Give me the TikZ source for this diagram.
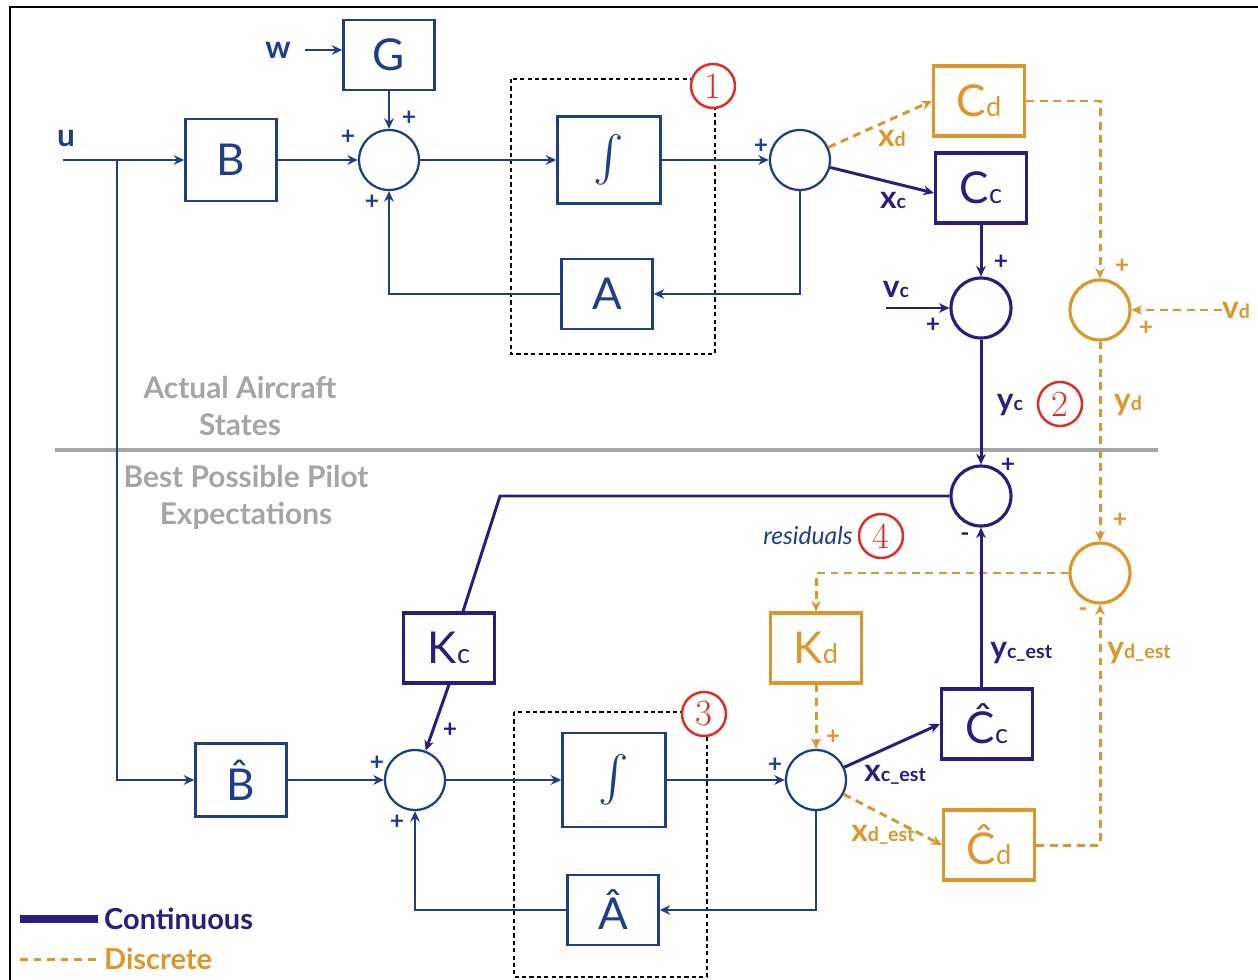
\documentclass[tikz,border=0pt]{standalone}
\usepackage{fontspec}
\setsansfont{Lato}
\usepackage{graphicx}
\usetikzlibrary{arrows.meta, positioning, calc}

\definecolor{sysblue}{RGB}{30,62,138}
\definecolor{contpurple}{RGB}{44,28,128}
\definecolor{discorange}{RGB}{220,150,44}
\definecolor{tagred}{RGB}{224,44,36}
\definecolor{sepgray}{RGB}{165,165,165}

\newcommand{\sub}[1]{\scalebox{0.62}{#1}}
\newcommand{\integsign}{{\fontsize{10}{12}\selectfont\scalebox{2.6}{$\int$}}}

\begin{document}
\begin{tikzpicture}[
        x=0.02cm, y=-0.02cm,
        font=\sffamily,
        >={Stealth[length=6pt, width=5.5pt]},
        sysline/.style={draw=sysblue, line width=1.1pt},
        cline/.style={draw=contpurple, line width=1.7pt},
        dline/.style={draw=discorange, line width=1.7pt, dash pattern=on 4.5pt off 3.2pt},
        blk/.style={
            draw=sysblue,
            fill=white,
            line width=1.4pt,
            minimum width=1.82cm,
            minimum height=1.4cm,
            text=sysblue,
            font=\sffamily\fontsize{25}{28}\selectfont
        },
        cblk/.style={blk, draw=contpurple, text=contpurple, line width=1.8pt},
        dblk/.style={blk, draw=discorange, text=discorange, line width=1.8pt},
        sum/.style={circle, draw=sysblue, fill=white, line width=1.3pt, minimum size=1.2cm, inner sep=0pt},
        csum/.style={sum, draw=contpurple, line width=1.8pt},
        dsum/.style={sum, draw=discorange, line width=1.8pt},
        sgn/.style={inner sep=0pt, text=sysblue, font=\sffamily\bfseries\fontsize{14}{14}\selectfont},
        sig/.style={inner sep=0pt, font=\sffamily\bfseries\fontsize{18}{18}\selectfont},
        numtag/.style={circle, draw=tagred, fill=white, line width=1.4pt, minimum size=0.88cm, inner sep=0pt, text=tagred, font=\rmfamily\fontsize{21}{21}\selectfont},
        grp/.style={draw=black, line width=1.1pt, dash pattern=on 2.4pt off 1.8pt},
        zone/.style={text=sepgray, align=center, font=\sffamily\bfseries\fontsize{17}{21}\selectfont}
    ]
    \useasboundingbox (0,0) rectangle (1258,980);

    % frame and dashed groups
    \draw[line width=1.2pt] (10,980) -- (10,7) -- (1258,7);
    \draw[grp] (511,79) rectangle (715,354);
    \draw[grp] (514,712) rectangle (707,977);

    % separator
    \draw[sepgray, line width=2.5pt] (55,450) -- (1158,450);
    \node[zone] (zoneTop) at (240,406) {Actual Aircraft\\States};
    \node[zone] (zoneBot) at (246,497) {Best Possible Pilot\\Expectations};

    % actual aircraft
    \node[blk] (gainG) at (389,55) {G};
    \node[blk, minimum height=1.64cm] (gainB) at (231,160) {B};
    \node[sum] (sumIn) at (389,160) {};
    \node[blk, minimum width=2.06cm, minimum height=1.74cm] (integ) at (609,160) {\integsign};
    \node[blk] (stateA) at (607,294) {A};
    \node[sum] (sumX) at (800,160) {};
    \node[dblk] (outCd) at (979,101) {C\sub{d}};
    \node[cblk] (outCc) at (981,188) {C\sub{c}};
    \node[csum] (sumYc) at (981,308) {};
    \node[dsum] (sumYd) at (1100,310) {};

    \coordinate (uIn) at (63,160);
    \coordinate (uSplit) at (117,160);
    \node[sig, text=sysblue] (lblU) at (66,139) {u};
    \node[sig, text=sysblue] (lblW) at (278,50) {w};

    \draw[sysline, ->] (uIn) -- (gainB);
    \draw[sysline, ->, shorten <=8pt] (lblW) -- (lblW -| gainG.west);
    \draw[sysline, ->] (gainG) -- (sumIn);
    \draw[sysline, ->] (gainB) -- (sumIn);
    \draw[sysline, ->] (sumIn) -- (integ);
    \draw[sysline, ->] (integ) -- (sumX);
    \draw[sysline, ->] (sumX.south) |- (stateA.east);
    \draw[sysline, ->] (stateA.west) -| (sumIn.south);

    \draw[dline, ->] (sumX) -- (outCd.west);
    \draw[cline, ->] (sumX) -- ([yshift=-0.1cm]outCc.west);
    \node[sig, text=discorange] (lblXd) at (892,138) {x\sub{d}};
    \node[sig, text=contpurple] (lblXc) at (893,200) {x\sub{c}};

    \draw[cline, ->] (outCc) -- (sumYc);
    \coordinate (vcIn) at (886,308);
    \node[sig, text=contpurple] (lblVc) at (896,289) {v\sub{c}};
    \draw[cline, ->] (vcIn) -- (sumYc);
    \draw[dline, ->] (outCd.east) -| (sumYd.north);
    \node[sig, text=discorange] (lblVd) at (1236,310) {v\sub{d}};
    \draw[dline, ->] (lblVd) -- (sumYd);

    % residuals
    \node[csum] (resC) at (981,496) {};
    \node[dsum] (resD) at (1100,573) {};
    \node[cblk] (gainKc) at (449,648) {K\sub{c}};
    \node[dblk] (gainKd) at (816,648) {K\sub{d}};

    \draw[cline, ->] (sumYc) -- (resC);
    \draw[dline, ->] (sumYd) -- (resD);
    \node[sig, text=contpurple] (lblYc) at (1010,405) {y\sub{c}};
    \node[sig, text=discorange] (lblYd) at (1128,405) {y\sub{d}};

    \coordinate (kcBend) at (500,496);
    \draw[cline] (resC) -- (kcBend) -- ([xshift=0.28cm]gainKc.north);
    \draw[dline, ->] (resD) -| (gainKd.north);
    \node[text=sysblue, inner sep=0pt, font=\sffamily\itshape\fontsize{14}{14}\selectfont] (lblRes) at (808,536) {residuals};

    % pilot model
    \node[blk, minimum height=1.46cm] (estB) at (241,780) {B̂};
    \node[sum] (sumInE) at (415,780) {};
    \node[blk, minimum width=2.06cm, minimum height=1.88cm] (integE) at (614,780) {\integsign};
    \node[blk] (estA) at (613,910) {Â};
    \node[sum] (sumXE) at (816,780) {};
    \node[cblk] (estCc) at (987,724) {Ĉ\sub{c}};
    \node[dblk] (estCd) at (989,845) {Ĉ\sub{d}};

    \draw[sysline, ->] (uSplit) |- (estB.west);
    \draw[sysline, ->] (estB) -- (sumInE);
    \draw[sysline, ->] (sumInE) -- (integE);
    \draw[sysline, ->] (integE) -- (sumXE);
    \draw[sysline, ->] (sumXE.south) |- (estA.east);
    \draw[sysline, ->] (estA.west) -| (sumInE.south);
    \draw[cline, ->] (gainKc.south) -- (sumInE.70);
    \draw[dline, ->] (gainKd) -- (sumXE);

    \draw[cline, ->] (sumXE) -- (estCc.west);
    \draw[dline, ->] (sumXE) -- (estCd.west);
    \draw[cline, ->] (estCc.north -| resC) -- (resC);
    \draw[dline, ->] (estCd.east) -| (resD.south);
    \node[sig, text=contpurple, anchor=west] (lblXcE) at (864,775) {x\sub{c\_est}};
    \node[sig, text=discorange, anchor=west] (lblXdE) at (851,835) {x\sub{d\_est}};
    \node[sig, text=contpurple, anchor=west] (lblYcE) at (990,653) {y\sub{c\_est}};
    \node[sig, text=discorange, anchor=west] (lblYdE) at (1107,653) {y\sub{d\_est}};

    % signs
    \node[sgn] (pInB) at (348,137) {+};
    \node[sgn] (pInG) at (409,118) {+};
    \node[sgn] (pInA) at (372,202) {+};
    \node[sgn] (pX) at (761,146) {+};
    \node[sgn, text=contpurple] (pYcC) at (1001,262) {+};
    \node[sgn, text=contpurple] (pYcV) at (933,325) {+};
    \node[sgn, text=discorange] (pYdC) at (1122,266) {+};
    \node[sgn, text=discorange] (pYdV) at (1146,328) {+};
    \node[sgn, text=contpurple] (pResC) at (1008,465) {+};
    \node[sgn, text=contpurple] (mResC) at (965,537) {-};
    \node[sgn, text=discorange] (pResD) at (1120,520) {+};
    \node[sgn, text=discorange] (mResD) at (1083,612) {-};
    \node[sgn] (pInEB) at (377,763) {+};
    \node[sgn] (pInEA) at (397,822) {+};
    \node[sgn, text=contpurple] (pInEK) at (450,730) {+};
    \node[sgn] (pXE) at (775,765) {+};
    \node[sgn, text=discorange] (pXEK) at (833,737) {+};

    % numbered tags
    \node[numtag] (tagOne) at (713,86) {1};
    \node[numtag] (tagTwo) at (1060,404) {2};
    \node[numtag] (tagThree) at (704,714) {3};
    \node[numtag] (tagFour) at (881,536) {4};

    % legend
    \coordinate (legC) at (20,919);
    \coordinate (legD) at (20,959);
    \node[anchor=west, text=contpurple, font=\sffamily\bfseries\fontsize{16.5}{16}\selectfont] (legCont) at (98,919) {Continuous};
    \node[anchor=west, text=discorange, font=\sffamily\bfseries\fontsize{16.5}{16}\selectfont] (legDisc) at (98,959) {Discrete};
    \draw[contpurple, line width=4.5pt] (legC) -- (legCont.west);
    \draw[dline] (legD) -- (legDisc.west);

\end{tikzpicture}
\end{document}
